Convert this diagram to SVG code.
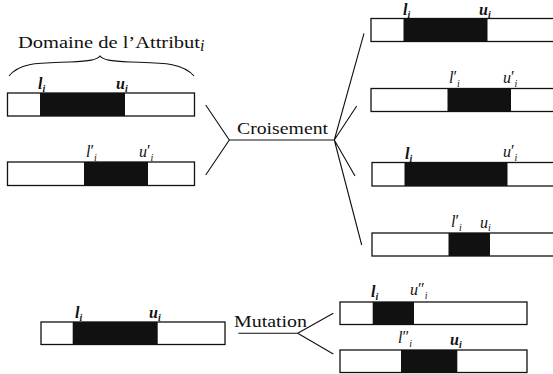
<svg xmlns="http://www.w3.org/2000/svg" width="553" height="374" viewBox="0 0 553 374" font-family="'Liberation Serif', 'Times New Roman', serif">
<style>
.bar{fill:#fff;stroke:#111;stroke-width:1.3}
.seg{fill:#111}
.ln{fill:none;stroke:#111;stroke-width:1.1}
.lbl{font-style:italic;font-size:16px;fill:#111}
.b{font-weight:bold}
.sub{font-size:10px}
.pr{font-size:16px;font-style:normal;font-weight:normal}
.txt{font-size:16px;fill:#111}
</style>
<rect width="553" height="374" fill="#fff"/>
<g id="domaine">
<text class="txt" x="18" y="48" textLength="182" lengthAdjust="spacingAndGlyphs">Domaine de l’Attribut</text>
<text class="lbl" x="200" y="51" font-size="10">i</text>
<path class="ln" d="M9,76 C20,62 40,63 70,62 C90,61 97,60 100,56 C103,60 110,61 130,62 C160,63 182,62 194,76"/>
</g>
<g id="parent1">
<rect class="bar" x="7.5" y="93" width="187" height="23"/>
<rect class="seg" x="40" y="93" width="85" height="23"/>
<text class="lbl b" x="38" y="89">l<tspan class="sub" dy="3">i</tspan></text>
<text class="lbl b" x="116" y="89">u<tspan class="sub" dy="3">i</tspan></text>
</g>
<g id="parent2">
<rect class="bar" x="7.5" y="162" width="187" height="23.5"/>
<rect class="seg" x="84" y="162" width="64" height="23.5"/>
<text class="lbl" x="86" y="157">l<tspan class="pr" dy="-1">′</tspan><tspan class="sub" dy="5">i</tspan></text>
<text class="lbl" x="139" y="157">u<tspan class="pr" dy="-1">′</tspan><tspan class="sub" dy="5">i</tspan></text>
</g>
<g id="croisement-label">
<text class="txt" x="237" y="134" font-size="17" textLength="91" lengthAdjust="spacingAndGlyphs">Croisement</text>
</g>
<g id="enfant1">
<rect class="bar" x="371" y="18.5" width="190" height="23"/>
<rect class="seg" x="403.5" y="18.5" width="84" height="23"/>
<text class="lbl b" x="403" y="15">l<tspan class="sub" dy="3">i</tspan></text>
<text class="lbl b" x="479" y="15">u<tspan class="sub" dy="3">i</tspan></text>
</g>
<g id="enfant2">
<rect class="bar" x="371" y="88.5" width="190" height="23"/>
<rect class="seg" x="447.5" y="88.5" width="63.5" height="23"/>
<text class="lbl" x="449" y="83">l<tspan class="pr" dy="-1">′</tspan><tspan class="sub" dy="5">i</tspan></text>
<text class="lbl" x="503" y="83">u<tspan class="pr" dy="-1">′</tspan><tspan class="sub" dy="5">i</tspan></text>
</g>
<g id="enfant3">
<rect class="bar" x="372" y="162.5" width="190" height="23.5"/>
<rect class="seg" x="404.5" y="162.5" width="103" height="23.5"/>
<text class="lbl b" x="405" y="159">l<tspan class="sub" dy="3">i</tspan></text>
<text class="lbl" x="503" y="157">u<tspan class="pr" dy="-1">′</tspan><tspan class="sub" dy="5">i</tspan></text>
</g>
<g id="enfant4">
<rect class="bar" x="372" y="233" width="190" height="23"/>
<rect class="seg" x="448.5" y="233" width="41.5" height="23"/>
<text class="lbl" x="451" y="227">l<tspan class="pr" dy="-1">′</tspan><tspan class="sub" dy="5">i</tspan></text>
<text class="lbl" x="480" y="228">u<tspan class="sub" dy="3">i</tspan></text>
</g>
<g id="mutation-parent">
<rect class="bar" x="41" y="322" width="184" height="22.5"/>
<rect class="seg" x="72.7" y="322" width="85" height="22.5"/>
<text class="lbl b" x="75" y="318">l<tspan class="sub" dy="3">i</tspan></text>
<text class="lbl b" x="149" y="318">u<tspan class="sub" dy="3">i</tspan></text>
</g>
<g id="mutation-label">
<text class="txt" x="234" y="327" textLength="73" lengthAdjust="spacingAndGlyphs">Mutation</text>
</g>
<g id="mutant1">
<rect class="bar" x="340" y="302" width="187" height="22.5"/>
<rect class="seg" x="372.7" y="302" width="41.3" height="22.5"/>
<text class="lbl b" x="371" y="297">l<tspan class="sub" dy="3">i</tspan></text>
<text class="lbl" x="410" y="295">u<tspan class="pr" dy="-1">″</tspan><tspan class="sub" dy="5">i</tspan></text>
</g>
<g id="mutant2">
<rect class="bar" x="340" y="350" width="187" height="22.5"/>
<rect class="seg" x="401" y="350" width="56.3" height="22.5"/>
<text class="lbl" x="398" y="343">l<tspan class="pr" dy="-1">″</tspan><tspan class="sub" dy="5">i</tspan></text>
<text class="lbl b" x="450" y="345">u<tspan class="sub" dy="3">i</tspan></text>
</g>
<g id="connectors">
<path class="ln" d="M205.7,105 L229.3,140 L205.7,175"/>
<path class="ln" d="M229.3,140 L334.3,140"/>
<path class="ln" d="M334.3,140 L364,33.3 M334.3,140 L356.7,106 M334.3,140 L355,176 M334.3,140 L361.7,245"/>
<path class="ln" d="M238.3,333.3 L297.7,333.3 M297.7,333.3 L333.3,313.3 M297.7,333.3 L333.3,354"/>
</g>
</svg>
